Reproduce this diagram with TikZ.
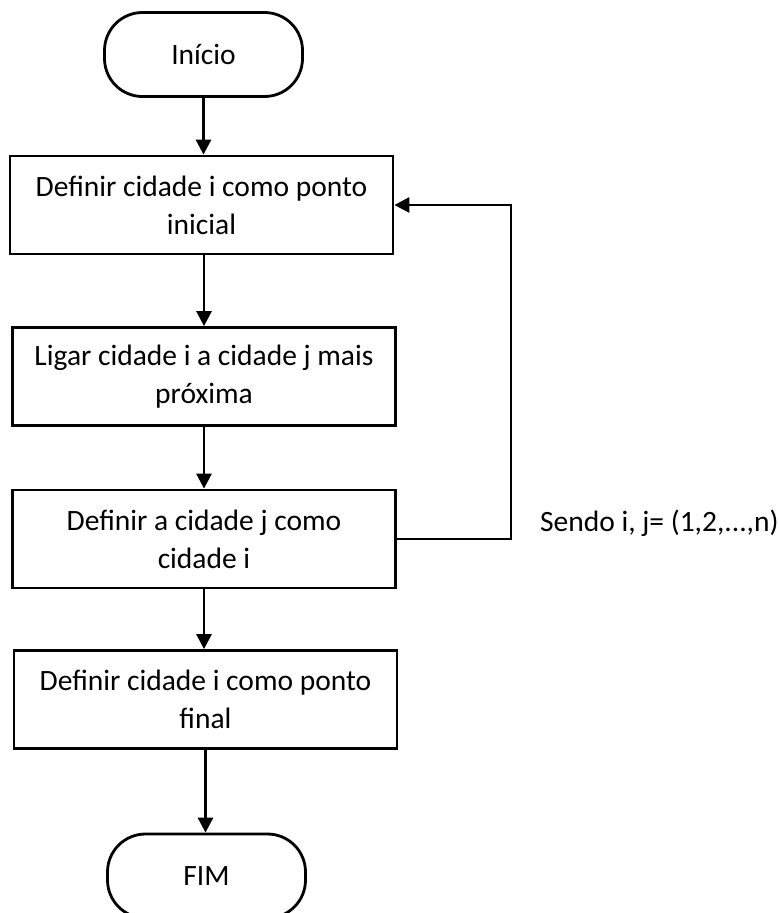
\documentclass[tikz,border=0pt]{standalone}
\usepackage{fontspec}
\setmainfont{Carlito}
\usetikzlibrary{arrows.meta}
\begin{document}
\begin{tikzpicture}[%
  x = 1pt, y = -1pt,
  every node/.style = {font = \fontsize{29.5}{38}\selectfont},
  passo/.style = {rectangle, draw, line width = 2.8pt, minimum width = 383pt,
    minimum height = 98pt, align = center, inner sep = 0pt},
  terminal/.style = {rectangle, draw, line width = 2.8pt, rounded corners = 38pt,
    minimum width = 198pt, minimum height = 84pt, inner sep = 0pt},
  seta/.style = {line width = 2.8pt, -{Triangle[length = 15pt, width = 15pt]}}]
  \useasboundingbox (0, 0) rectangle (779, 913);
  \node[terminal] (inicio) at (203.5, 54.5) {Início};
  \node[passo] (inicial) at (201.5, 205) {Definir cidade i como ponto\\inicial};
  \node[passo] (ligar) at (204, 376.5) {Ligar cidade i a cidade j mais\\próxima};
  \node[passo] (trocar) at (204, 539) {Definir a cidade j como\\cidade i};
  \node[passo] (final) at (205.5, 699.5) {Definir cidade i como ponto\\final};
  \node[terminal] (fim) at (206.5, 876) {FIM};
  \node[anchor = west, inner sep = 0pt] (sendo) at (540, 523) {Sendo i, j= (1,2,...,n)};

  \draw[seta] (inicio) -- (inicio |- inicial.north);
  \draw[seta] (inicial.south -| ligar) -- (ligar);
  \draw[seta] (ligar) -- (trocar);
  \draw[seta] (trocar) -- (trocar |- final.north);
  \draw[seta] (final) -- (final |- fim.north);
  \draw[seta] (trocar.east) -- ++(114, 0) |- (inicial.east);
\end{tikzpicture}
\end{document}
